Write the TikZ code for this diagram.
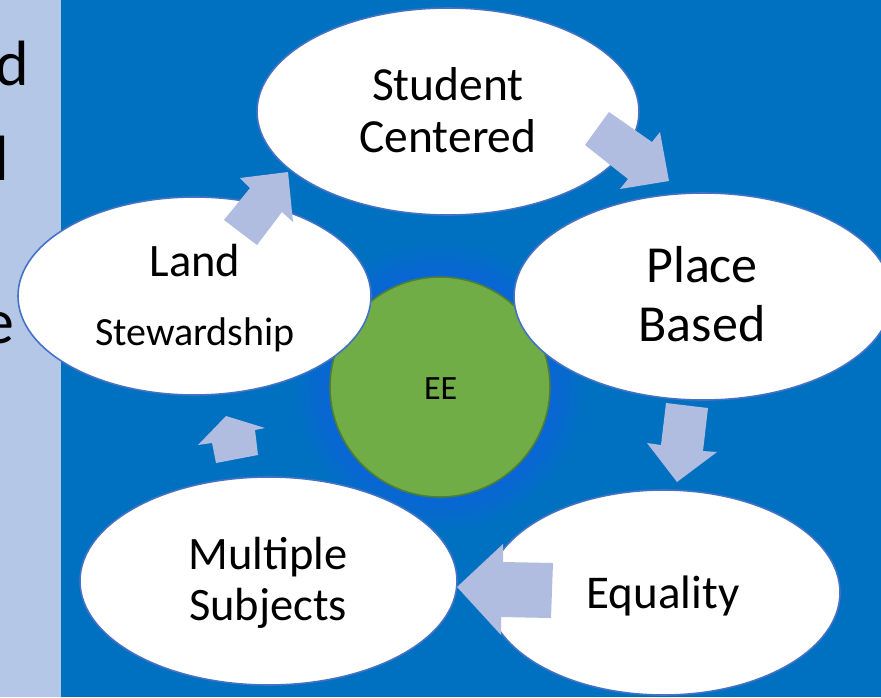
\documentclass[tikz,border=0pt]{standalone}
\usepackage{fontspec}
\setmainfont{Carlito}
\usetikzlibrary{shapes.geometric}
\definecolor{bgblue}{HTML}{0070C0}
\definecolor{stripc}{HTML}{B4C7E7}
\definecolor{arrowc}{HTML}{B0BCE0}
\definecolor{ellborder}{HTML}{4472C4}
\definecolor{eegreen}{HTML}{70AD47}
\definecolor{eeborder}{HTML}{507E32}
\definecolor{glowc}{HTML}{1462E6}
\tikzset{
  ell/.style={ellipse, fill=white, draw=ellborder, line width=1.6pt, inner sep=0pt},
  lbl/.style={inner sep=0pt, anchor=base, text=black},
  blockarrow/.style={fill=arrowc, draw=none},
  edgeletter/.style={inner sep=0pt, anchor=base east, text=black, font=\fontsize{64}{70}\selectfont}
}
\begin{document}
\begin{tikzpicture}[x=1pt,y=-1pt]
\useasboundingbox (0,0) rectangle (881,697);
\clip (0,0) rectangle (881,697);
% backgrounds
\fill[stripc] (0,0) rectangle (881,697);
\node[edgeletter] (ld) at (29,85) {d};
\node[edgeletter] (ll) at (9,180) {l};
\node[edgeletter] (le) at (15,343) {e};
\fill[bgblue] (61,0) rectangle (881,697);
% glow and centre circle
\coordinate (eec) at (440,387);
\foreach \r in {142,136,130,124,118,113}
  \fill[glowc, opacity=0.14] (eec) circle (\r pt);
\node[circle, fill=eegreen, draw=eeborder, line width=1.6pt, minimum size=220pt, inner sep=0pt] (ee) at (eec) {};
\node[lbl, font=\fontsize{34}{40}\selectfont] (eet) at (440.7,399) {EE};
% ellipses
\node[ell, minimum width=382pt, minimum height=207pt] (sc) at (448,111.5) {};
\node[ell, minimum width=378pt, minimum height=207pt] (pb) at (703,296.5) {};
\node[ell, minimum width=353pt, minimum height=205pt] (eq) at (663.5,592.5) {};
\node[ell, minimum width=377pt, minimum height=208pt] (ms) at (268.5,581) {};
\node[ell, minimum width=353pt, minimum height=198pt] (ls) at (194.5,296) {};
% labels
\node[lbl, font=\fontsize{47.5}{52}\selectfont] (sct1) at (448,100) {Student};
\node[lbl, font=\fontsize{47.5}{52}\selectfont] (sct2) at (448,152) {Centered};
\node[lbl, font=\fontsize{52}{58}\selectfont] (pbt1) at (702,282) {Place};
\node[lbl, font=\fontsize{52}{58}\selectfont] (pbt2) at (702,341) {Based};
\node[lbl, font=\fontsize{47}{52}\selectfont] (eqt) at (663,608) {Equality};
\node[lbl, font=\fontsize{46.5}{52}\selectfont] (mst1) at (268,569) {Multiple};
\node[lbl, font=\fontsize{46.5}{52}\selectfont] (mst2) at (268,620) {Subjects};
\node[lbl, font=\fontsize{46.5}{52}\selectfont] (lst1) at (195,276) {Land};
\node[lbl, font=\fontsize{40}{46}\selectfont] (lst2) at (195,345) {Stewardship};
% block arrows
\fill[blockarrow] (224,220) -- (250,188) -- (240,178) -- (288,172) -- (293,222) -- (282,212) -- (257,245) -- cycle;
\fill[blockarrow] (609,112) -- (652,142) -- (660,132) -- (669,181) -- (620,189) -- (628,179) -- (585,145) -- cycle;
\fill[blockarrow] (666,403) -- (708,408) -- (703,451) -- (717,452) -- (677,482) -- (647,443) -- (661,445) -- cycle;
\fill[blockarrow] (457,587) -- (503,544) -- (503,562) -- (553,563) -- (551,618) -- (501,617) -- (501,635) -- cycle;
\fill[blockarrow] (226,416) -- (265,428) -- (255,430) -- (258,455) -- (216,463) -- (212,443) -- (198,445) -- cycle;
\end{tikzpicture}
\end{document}
